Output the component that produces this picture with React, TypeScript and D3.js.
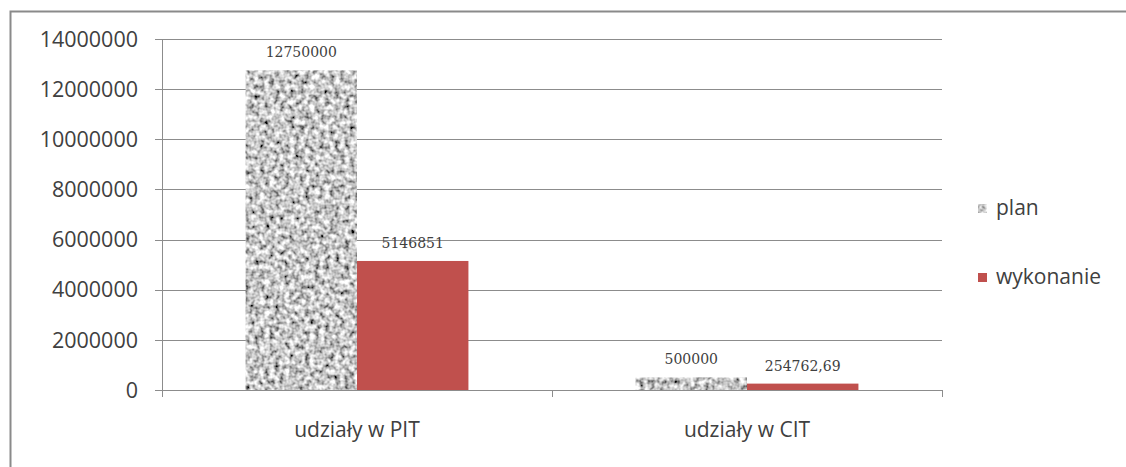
import React from "react";
import * as d3 from "d3";

const categories = ["udziały w PIT", "udziały w CIT"];
const seriesNames = ["plan", "wykonanie"];
const planValues = [12750000, 500000];
const wykonanieValues = [5146851, 254762.69];
const planLabels = ["12750000", "500000"];
const wykonanieLabels = ["5146851", "254762,69"];
const yTicks = [0, 2000000, 4000000, 6000000, 8000000, 10000000, 12000000, 14000000];

const W = 1126;
const H = 467;
const plot = { left: 162, right: 942, top: 39, bottom: 390 };
const RED = "#c0504d";
const GRID = "#8c8c8c";
const TEXT = "#404040";
const SANS = "'Open Sans', 'Noto Sans', sans-serif";
const SERIF = "'DejaVu Serif', serif";

export default function App() {
  const y = d3.scaleLinear().domain([0, 14000000]).range([plot.bottom, plot.top]);
  const x0 = d3.scaleBand<string>().domain(categories).range([plot.left, plot.right]);
  const bw = x0.bandwidth() / 3.5;
  const x1 = d3
    .scaleBand<string>()
    .domain(seriesNames)
    .range([0, 2 * bw]);
  const series = [
    { name: "plan", values: planValues, labels: planLabels },
    { name: "wykonanie", values: wykonanieValues, labels: wykonanieLabels },
  ];
  const offset = (x0.bandwidth() - 2 * bw) / 2;

  return (
    <svg
      width={W}
      height={H}
      style={{ position: "absolute", left: 0, top: 0, display: "block", background: "#fff" }}
    >
      <defs>
        <filter id="granite" x="0" y="0" width="100%" height="100%" filterUnits="objectBoundingBox">
          <feTurbulence type="fractalNoise" baseFrequency="0.2" numOctaves="2" seed="3" result="noise" />
          <feColorMatrix
            in="noise"
            type="matrix"
            values="1.8 0 0 0 -0.32  1.8 0 0 0 -0.32  1.8 0 0 0 -0.32  0 0 0 0 1"
            result="gray"
          />
          <feGaussianBlur in="gray" stdDeviation="0.5" result="soft" />
          <feComposite in="soft" in2="SourceGraphic" operator="in" />
        </filter>
      </defs>
      <rect x={0} y={0} width={W} height={H} fill="#fff" />
      {/* chart border */}
      <rect x={10.5} y={11.5} width={W + 20} height={H + 20} fill="#fff" stroke="#8a8a8a" strokeWidth={2} />

      {/* gridlines + y ticks */}
      {yTicks.map((t) => (
        <g key={t}>
          <line
            x1={plot.left - 7}
            x2={plot.right}
            y1={Math.round(y(t)) + 0.5}
            y2={Math.round(y(t)) + 0.5}
            stroke={GRID}
            strokeWidth={1}
          />
          <text
            x={138}
            y={y(t)}
            dy="0.36em"
            textAnchor="end"
            fontFamily={SANS}
            fontSize={21.5}
            fill={TEXT}
          >
            {t}
          </text>
        </g>
      ))}
      {/* y axis line */}
      <line x1={plot.left + 0.5} x2={plot.left + 0.5} y1={plot.top} y2={plot.bottom + 7} stroke={GRID} />
      {/* x category ticks */}
      {[...categories.map((c) => x0(c) as number), plot.right].map((v, i) => (
        <line key={i} x1={v + 0.5} x2={v + 0.5} y1={plot.bottom} y2={plot.bottom + 7} stroke={GRID} />
      ))}

      {/* bars */}
      {series.map((s) =>
        categories.map((c, i) => {
          const bx = (x0(c) as number) + offset + (x1(s.name) as number);
          const top = y(s.values[i]);
          return (
            <g key={s.name + c}>
              <rect
                x={bx}
                y={top}
                width={bw}
                height={plot.bottom - top}
                fill={s.name === "plan" ? "#a6a6a6" : RED}
                filter={s.name === "plan" ? "url(#granite)" : undefined}
              />
              <text
                x={bx + bw / 2}
                y={top - 13}
                textAnchor="middle"
                fontFamily={SERIF}
                fontSize={14}
                fill={TEXT}
              >
                {s.labels[i]}
              </text>
            </g>
          );
        })
      )}
      {/* redraw baseline over bars */}
      <line x1={plot.left - 7} x2={plot.right} y1={plot.bottom + 0.5} y2={plot.bottom + 0.5} stroke={GRID} />

      {/* category labels */}
      {categories.map((c) => (
        <text
          key={c}
          x={(x0(c) as number) + x0.bandwidth() / 2}
          y={437}
          textAnchor="middle"
          fontFamily={SANS}
          fontSize={21}
          fill={TEXT}
        >
          {c}
        </text>
      ))}

      {/* legend */}
      {seriesNames.map((n, i) => {
        const ly = 208 + i * 69;
        return (
          <g key={n}>
            <rect
              x={978}
              y={ly - 4}
              width={9}
              height={9}
              fill={n === "plan" ? "#a6a6a6" : RED}
              filter={n === "plan" ? "url(#granite)" : undefined}
            />
            <text x={996} y={ly} dy="0.35em" fontFamily={SANS} fontSize={21} fill={TEXT}>
              {n}
            </text>
          </g>
        );
      })}
    </svg>
  );
}
